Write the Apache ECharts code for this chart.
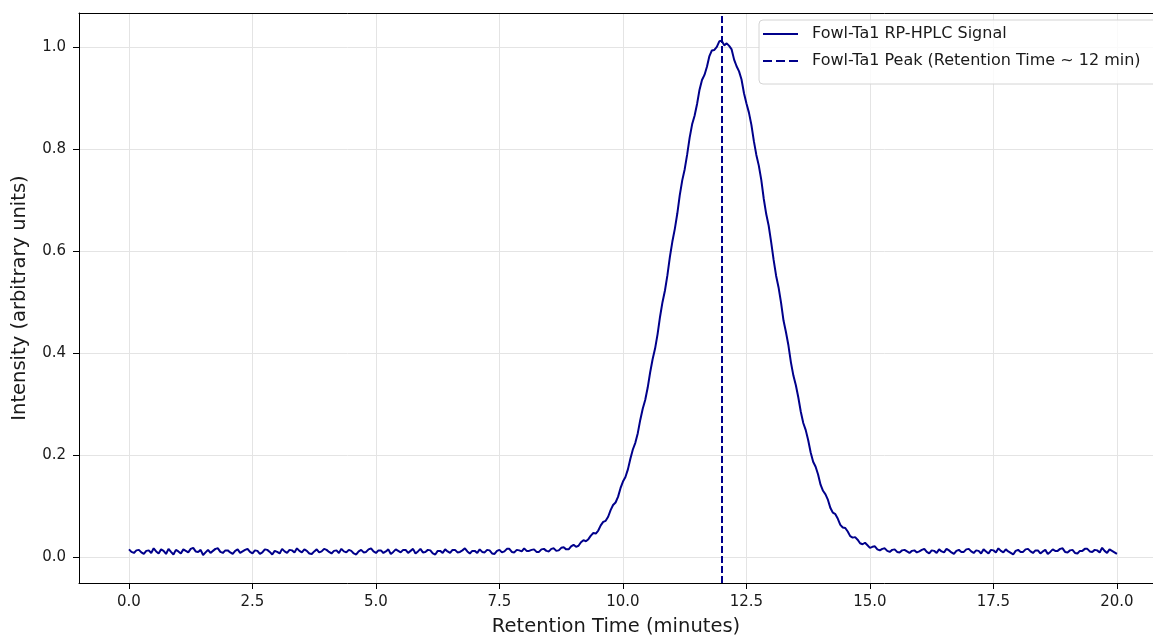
<!DOCTYPE html>
<html>
<head>
<meta charset="utf-8">
<title>Fowl-Ta1 RP-HPLC</title>
<script src="https://cdn.jsdelivr.net/npm/echarts@6/dist/echarts.min.js"></script>
<style>
  html, body { margin: 0; padding: 0; background: #fff; }
  #chart { width: 1153px; height: 637px; }
</style>
</head>
<body>
<div id="chart"></div>
<script>
// retention time grid: 0.00 .. 20.00 min, one reading every 0.05 min
const TIME_START = 0;
const TIME_STEP = 0.05;

// intensity (arbitrary units), one per time step
const BASELINE_EARLY = [ // 0.00 - 8.05
  0.015, 0.010, 0.008, 0.013, 0.014, 0.009, 0.006, 0.012, 0.013, 0.008,
  0.017, 0.011, 0.007, 0.015, 0.012, 0.006, 0.016, 0.010, 0.005, 0.014,
  0.011, 0.007, 0.015, 0.012, 0.009, 0.016, 0.018, 0.011, 0.010, 0.014,
  0.004, 0.009, 0.014, 0.008, 0.012, 0.016, 0.017, 0.010, 0.008, 0.013,
  0.013, 0.009, 0.006, 0.012, 0.015, 0.008, 0.011, 0.014, 0.016, 0.010,
  0.007, 0.013, 0.012, 0.006, 0.009, 0.015, 0.014, 0.010, 0.005, 0.012,
  0.010, 0.007, 0.016, 0.011, 0.008, 0.014, 0.013, 0.009, 0.017, 0.012,
  0.009, 0.015, 0.012, 0.007, 0.006, 0.011, 0.015, 0.009, 0.011, 0.016,
  0.014, 0.010, 0.007, 0.012, 0.013, 0.008, 0.016, 0.011, 0.009, 0.014,
  0.012, 0.007, 0.005, 0.011, 0.014, 0.009, 0.010, 0.015, 0.017, 0.011,
  0.008, 0.013, 0.013, 0.008, 0.011, 0.015, 0.006, 0.010, 0.015, 0.012,
  0.009, 0.014, 0.014, 0.008, 0.012, 0.016, 0.007, 0.011, 0.016, 0.009,
  0.010, 0.014, 0.013, 0.007, 0.005, 0.012, 0.012, 0.008, 0.015, 0.011,
  0.008, 0.014, 0.014, 0.009, 0.010, 0.013, 0.017, 0.011, 0.007, 0.012,
  0.012, 0.008, 0.015, 0.010, 0.009, 0.014, 0.013, 0.007, 0.006, 0.012,
  0.014, 0.009, 0.011, 0.016, 0.016, 0.010, 0.009, 0.014, 0.013, 0.011,
  0.017, 0.012
];

const PEAK_REGION = [ // 8.10 - 15.95
  0.012, 0.014, 0.015, 0.010, 0.010, 0.015, 0.016, 0.012, 0.011, 0.016,
  0.017, 0.012, 0.013, 0.018, 0.019, 0.015, 0.015, 0.021, 0.024, 0.020,
  0.022, 0.029, 0.033, 0.031, 0.035, 0.042, 0.047, 0.046, 0.052, 0.062,
  0.069, 0.071, 0.079, 0.092, 0.102, 0.107, 0.118, 0.135, 0.148, 0.157,
  0.172, 0.193, 0.211, 0.224, 0.243, 0.269, 0.291, 0.308, 0.332, 0.362,
  0.388, 0.409, 0.437, 0.471, 0.500, 0.523, 0.553, 0.589, 0.619, 0.644,
  0.674, 0.710, 0.739, 0.761, 0.790, 0.823, 0.849, 0.866, 0.889, 0.917,
  0.936, 0.946, 0.962, 0.983, 0.994, 0.995, 1.001, 1.012, 1.013, 1.004,
  1.008, 1.003, 0.996, 0.976, 0.963, 0.953, 0.937, 0.910, 0.890, 0.872,
  0.848, 0.816, 0.789, 0.768, 0.740, 0.703, 0.673, 0.650, 0.618, 0.583,
  0.552, 0.529, 0.499, 0.464, 0.441, 0.415, 0.382, 0.356, 0.337, 0.313,
  0.285, 0.263, 0.249, 0.229, 0.205, 0.187, 0.177, 0.162, 0.142, 0.130,
  0.123, 0.112, 0.096, 0.087, 0.084, 0.075, 0.063, 0.058, 0.057, 0.050,
  0.041, 0.038, 0.039, 0.034, 0.027, 0.025, 0.028, 0.023, 0.018, 0.020,
  0.021, 0.015, 0.013, 0.016, 0.017, 0.012, 0.010, 0.014, 0.015, 0.010,
  0.009, 0.013, 0.014, 0.011, 0.008, 0.012, 0.013, 0.009
];

const BASELINE_LATE = [ // 16.00 - 20.00
  0.011, 0.014, 0.016, 0.010, 0.007, 0.013, 0.012, 0.008, 0.015, 0.011,
  0.009, 0.016, 0.013, 0.009, 0.006, 0.012, 0.014, 0.010, 0.010, 0.015,
  0.016, 0.011, 0.008, 0.013, 0.012, 0.007, 0.015, 0.011, 0.007, 0.014,
  0.013, 0.009, 0.017, 0.012, 0.009, 0.015, 0.011, 0.008, 0.005, 0.012,
  0.014, 0.010, 0.010, 0.015, 0.016, 0.011, 0.008, 0.013, 0.013, 0.007,
  0.011, 0.014, 0.006, 0.010, 0.015, 0.012, 0.012, 0.016, 0.017, 0.010,
  0.009, 0.013, 0.014, 0.008, 0.007, 0.012, 0.012, 0.016, 0.016, 0.011,
  0.010, 0.014, 0.013, 0.009, 0.018, 0.012, 0.008, 0.015, 0.012, 0.009,
  0.006
];

const PEAK_TIME = 12;
const X_TICKS = [0, 2.5, 5, 7.5, 10, 12.5, 15, 17.5, 20];
const Y_TICKS = [0, 0.2, 0.4, 0.6, 0.8, 1.0];

const SIGNAL_NAME = 'Fowl-Ta1 RP-HPLC Signal';
const PEAK_NAME = 'Fowl-Ta1 Peak (Retention Time ~ 12 min)';

const LINE_COLOR = '#00008b';
const TEXT_COLOR = '#1a1a1a';
const FONT = '"DejaVu Sans", sans-serif';

// pair the readings with their retention times
const intensity = BASELINE_EARLY.concat(PEAK_REGION, BASELINE_LATE);
const signalData = intensity.map((v, i) => [+(TIME_START + i * TIME_STEP).toFixed(2), v]);

const chart = echarts.init(document.getElementById('chart'), null, { renderer: 'canvas' });

const X_MIN = -1.012, X_MAX = 20.73;
const Y_MIN = -0.051, Y_MAX = 1.0675;

const option = {
  animation: false,
  backgroundColor: '#fff',
  grid: { left: 79, top: 13, right: 0, bottom: 54, outerBoundsMode: 'none', containLabel: false },
  legend: {
    left: 759, top: 20,
    orient: 'vertical',
    itemWidth: 35, itemHeight: 2, itemGap: 9,
    padding: [5, 24, 14, 4],
    backgroundColor: 'rgba(255,255,255,0.8)',
    borderColor: '#d4d4d4', borderWidth: 1, borderRadius: 4,
    selectedMode: false,
    textStyle: { fontFamily: FONT, fontSize: 16, color: TEXT_COLOR, lineHeight: 18, padding: [0, 0, 0, 9] },
    data: [
      { name: SIGNAL_NAME, icon: 'path://M0,0h35v2h-35z' },
      { name: PEAK_NAME, icon: 'path://M0,0h9v2h-9z M13,0h9v2h-9z M26,0h9v2h-9z' }
    ]
  },
  xAxis: [
    {
      type: 'value', min: X_MIN, max: X_MAX,
      name: 'Retention Time (minutes)', nameLocation: 'middle', nameGap: 34,
      nameTextStyle: { fontFamily: FONT, fontSize: 19.5, color: TEXT_COLOR },
      axisLine: { show: true, onZero: false, lineStyle: { color: '#000', width: 1 } },
      axisTick: { show: true, customValues: X_TICKS, length: 6, lineStyle: { color: '#000' } },
      axisLabel: {
        customValues: X_TICKS, margin: 12,
        fontFamily: FONT, fontSize: 15, color: TEXT_COLOR,
        formatter: v => v.toFixed(1)
      },
      splitLine: { show: true, lineStyle: { color: '#e4e4e4', width: 1 } }
    },
    {
      // top spine only
      type: 'value', position: 'top', min: X_MIN, max: X_MAX,
      axisLine: { show: true, onZero: false, lineStyle: { color: '#000', width: 1 } },
      axisTick: { show: false }, axisLabel: { show: false }, splitLine: { show: false }
    }
  ],
  yAxis: {
    type: 'value', min: Y_MIN, max: Y_MAX,
    name: 'Intensity (arbitrary units)', nameLocation: 'middle', nameGap: 49,
    nameTextStyle: { fontFamily: FONT, fontSize: 19.5, color: TEXT_COLOR },
    axisLine: { show: true, onZero: false, lineStyle: { color: '#000', width: 1 } },
    axisTick: { show: true, customValues: Y_TICKS, length: 6, lineStyle: { color: '#000' } },
    axisLabel: {
      customValues: Y_TICKS, margin: 13,
      fontFamily: FONT, fontSize: 15, color: TEXT_COLOR,
      formatter: v => v.toFixed(1)
    },
    splitLine: { show: true, lineStyle: { color: '#e4e4e4', width: 1 } }
  },
  series: [
    {
      name: SIGNAL_NAME,
      type: 'line',
      data: signalData,
      symbol: 'none',
      lineStyle: { color: LINE_COLOR, width: 2 },
      itemStyle: { color: LINE_COLOR },
      z: 3
    },
    {
      // vertical marker at the peak retention time
      name: PEAK_NAME,
      type: 'line',
      data: [],
      symbol: 'none',
      itemStyle: { color: LINE_COLOR },
      lineStyle: { color: LINE_COLOR, type: [7, 3], width: 2 },
      markLine: {
        silent: true,
        symbol: 'none',
        label: { show: false },
        lineStyle: { color: LINE_COLOR, type: [7, 3], width: 2 },
        data: [{ xAxis: PEAK_TIME }]
      },
      z: 4
    }
  ]
};

chart.setOption(option);
</script>
</body>
</html>
